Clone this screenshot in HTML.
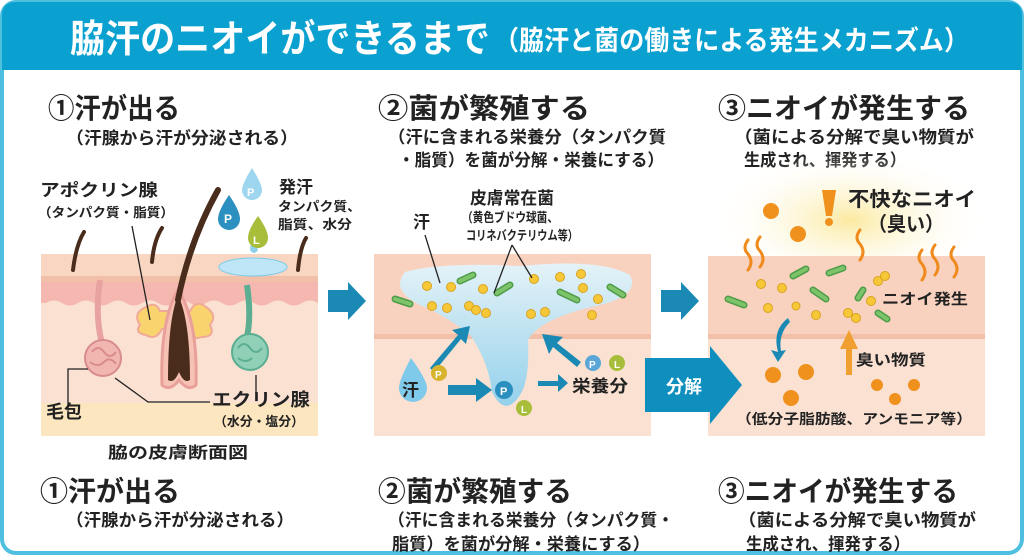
<!DOCTYPE html>
<html><head><meta charset="utf-8"><style>
body{margin:0;background:#fff;width:1024px;height:559px;overflow:hidden}
svg{display:block}
text{font-family:"Liberation Sans","Noto Sans CJK JP",sans-serif;font-weight:bold;fill:#222}
</style></head><body>
<svg width="1024" height="559" viewBox="0 0 1024 559" xmlns="http://www.w3.org/2000/svg">
<defs>
<linearGradient id="sw" x1="0" y1="0" x2="0" y2="1"><stop offset="0" stop-color="#e3f4fb"/><stop offset="1" stop-color="#8fd0ec"/></linearGradient>
<radialGradient id="glow" cx="0.5" cy="0.5" r="0.5"><stop offset="0" stop-color="#fbeaa0"/><stop offset="1" stop-color="#fff" stop-opacity="0"/></radialGradient>
</defs>
<rect x="2" y="2" width="1020" height="551" rx="14" fill="#fff" stroke="#4fbfe0" stroke-width="4"/>
<path d="M2 70 V16 Q2 2 16 2 H1008 Q1022 2 1022 16 V70 Z" fill="#0aa0d0"/>
<text x="70" y="52" font-size="38" textLength="420" lengthAdjust="spacingAndGlyphs" style="fill:#fff">脇汗のニオイができるまで</text>
<text x="494" y="50" font-size="27" textLength="475" lengthAdjust="spacingAndGlyphs" style="fill:#fff">（脇汗と菌の働きによる発生メカニズム）</text>

<text x="48" y="118" font-size="28" textLength="132" lengthAdjust="spacingAndGlyphs">①汗が出る</text>
<text x="66" y="144" font-size="17" textLength="232" lengthAdjust="spacingAndGlyphs">（汗腺から汗が分泌される）</text>
<text x="378" y="118" font-size="28" textLength="212" lengthAdjust="spacingAndGlyphs">②菌が繁殖する</text>
<text x="388" y="143" font-size="17" textLength="278" lengthAdjust="spacingAndGlyphs">（汗に含まれる栄養分（タンパク質</text>
<text x="398" y="166" font-size="17" textLength="266" lengthAdjust="spacingAndGlyphs">・脂質）を菌が分解・栄養にする）</text>
<text x="718" y="118" font-size="28" textLength="252" lengthAdjust="spacingAndGlyphs">③ニオイが発生する</text>
<text x="734" y="143" font-size="17" textLength="240" lengthAdjust="spacingAndGlyphs">（菌による分解で臭い物質が</text>
<text x="744" y="166" font-size="17" textLength="162" lengthAdjust="spacingAndGlyphs">生成され、揮発する）</text>

<text x="108" y="458" font-size="16" textLength="140" lengthAdjust="spacingAndGlyphs">脇の皮膚断面図</text>
<text x="40" y="501" font-size="28" textLength="140" lengthAdjust="spacingAndGlyphs">①汗が出る</text>
<text x="66" y="526" font-size="17" textLength="228" lengthAdjust="spacingAndGlyphs">（汗腺から汗が分泌される）</text>
<text x="378" y="501" font-size="28" textLength="194" lengthAdjust="spacingAndGlyphs">②菌が繁殖する</text>
<text x="388" y="526" font-size="17" textLength="286" lengthAdjust="spacingAndGlyphs">（汗に含まれる栄養分（タンパク質・</text>
<text x="392" y="550" font-size="17" textLength="258" lengthAdjust="spacingAndGlyphs">脂質）を菌が分解・栄養にする）</text>
<text x="718" y="501" font-size="28" textLength="240" lengthAdjust="spacingAndGlyphs">③ニオイが発生する</text>
<text x="738" y="526" font-size="17" textLength="238" lengthAdjust="spacingAndGlyphs">（菌による分解で臭い物質が</text>
<text x="746" y="550" font-size="17" textLength="164" lengthAdjust="spacingAndGlyphs">生成され、揮発する）</text>

<!-- PANEL 1 -->
<rect x="41" y="254" width="277" height="182" fill="#fbe1d2"/>
<rect x="41" y="254" width="277" height="22" fill="#f8d6c2"/>
<rect x="41" y="276" width="277" height="6" fill="#f2c0a8"/>
<path d="M41 282 H318 V303 Q310 298 302 303 T286 303 T270 303 T254 303 T238 303 T222 303 T206 303 T190 303 T174 303 T158 303 T142 303 T126 303 T110 303 T94 303 T78 303 T62 303 T46 303 L41 303Z" fill="#f4b8b0"/>
<rect x="41" y="403" width="277" height="33" fill="#fce6c0"/>
<path d="M73 270 Q76 245 84 232" stroke="#4a2c1c" stroke-width="4" fill="none" stroke-linecap="round"/>
<path d="M152 262 Q154 240 162 228" stroke="#4a2c1c" stroke-width="4" fill="none" stroke-linecap="round"/>
<path d="M298 270 Q300 248 306 238" stroke="#4a2c1c" stroke-width="4" fill="none" stroke-linecap="round"/>
<path d="M100 280 Q94 320 104 350" stroke="#e8a2a0" stroke-width="6" fill="none"/>
<circle cx="103" cy="358" r="18" fill="#f2b6b0" stroke="#d88c8c" stroke-width="2"/>
<path d="M92 352 q6-8 12 0 q6 8 12 0 M90 362 q8 6 14 0 q6-6 12 2" stroke="#d88c8c" stroke-width="2" fill="none"/>
<path d="M140 325 q-8-12 6-18 q10-6 14 4 h30 q6-12 16-4 q12 8 4 18 q6 12-8 12 q-10 4-14-8 h-26 q-6 12-16 6 q-12-2-6-10z" fill="#f9d46e" stroke="#f0a898" stroke-width="2"/>
<path d="M162 385 Q160 320 178 290 Q198 320 196 385 Q188 392 179 380 Q170 392 162 385Z" fill="#f6c2b4" stroke="#eaa09a" stroke-width="3"/>
<path d="M168 380 Q168 320 178 295 Q190 320 190 380 Q184 384 179 372 Q174 384 168 380Z" fill="#4a2c1c"/>
<path d="M178 300 Q190 240 218 190" stroke="#4a2c1c" stroke-width="6" fill="none" stroke-linecap="round"/>
<path d="M247 285 Q252 320 246 340" stroke="#5cae92" stroke-width="6" fill="none"/>
<circle cx="250" cy="352" r="18" fill="#8fd0b6" stroke="#5cae92" stroke-width="2"/>
<path d="M238 348 q6-8 12 0 q6 8 12 0 M238 358 q8 6 14 0" stroke="#5cae92" stroke-width="2" fill="none"/>
<ellipse cx="253" cy="267" rx="34" ry="9" fill="#bfe6f6" stroke="#7fcbea"/>
<path d="M252 232 l6 18 q-4 6-8 0z" fill="#8fd0ec"/>
<path d="M252 168 q10 16 10 22 a10 10 0 0 1-20 0 q0-6 10-22z" fill="#9fd6ef"/><text x="247" y="196" font-size="11" style="fill:#fff">P</text>
<path d="M229 195 q11 16 11 24 a11 11 0 0 1-22 0 q0-8 11-24z" fill="#2b8fbf"/><text x="224" y="223" font-size="12" style="fill:#fff">P</text>
<path d="M258 216 q10 14 10 22 a10 10 0 0 1-20 0 q0-8 10-22z" fill="#a8be3a"/><text x="253" y="244" font-size="11" style="fill:#fff">L</text>
<text x="279" y="193" font-size="17">発汗</text>
<text x="278" y="211" font-size="13" textLength="83" lengthAdjust="spacingAndGlyphs">タンパク質、</text>
<text x="278" y="229" font-size="13" textLength="74" lengthAdjust="spacingAndGlyphs">脂質、水分</text>
<text x="40" y="196" font-size="17" textLength="118" lengthAdjust="spacingAndGlyphs">アポクリン腺</text>
<text x="38" y="217" font-size="13" textLength="136" lengthAdjust="spacingAndGlyphs">（タンパク質・脂質）</text>
<path d="M132 226 L150 320" stroke="#222" stroke-width="1.3"/>
<path d="M68 418 V369 H88" stroke="#222" stroke-width="1.3" fill="none"/>
<path d="M115 378 L148 402 H210" stroke="#222" stroke-width="1.3" fill="none"/>
<path d="M256 375 V393" stroke="#222" stroke-width="1.3"/>
<text x="46" y="418" font-size="18">毛包</text>
<text x="212" y="406" font-size="18" textLength="98" lengthAdjust="spacingAndGlyphs">エクリン腺</text>
<text x="214" y="426" font-size="13" textLength="90" lengthAdjust="spacingAndGlyphs">（水分・塩分）</text>

<path d="M328 290 H348 V282 L366 301 L348 320 V312 H328Z" fill="#1a8ab5"/>

<!-- PANEL 2 -->
<rect x="374" y="254" width="277" height="182" fill="#fbe1d2"/>
<rect x="374" y="254" width="277" height="84" fill="#f8d2bf"/>
<rect x="374" y="334" width="277" height="5" fill="#f2c0a8"/>
<path d="M405 272 Q440 262 520 266 Q600 258 630 275 Q640 295 600 305 Q540 318 528 340 Q530 380 520 395 Q505 418 492 392 Q488 360 470 335 Q450 318 420 305 Q390 290 405 272Z" fill="url(#sw)" opacity="0.95"/>
<path d="M415 382 q12 -22 12 -30 a14 14 0 0 0 -28 0 q0 8 16 30z" fill="#7fc9ea" transform="rotate(180 413 370)"/>
<text x="402" y="396" font-size="17">汗</text>
<g fill="#f6c838" stroke="#d9a21e" stroke-width="1">
<circle cx="427" cy="286" r="4.5"/><circle cx="451" cy="287" r="4.5"/><circle cx="432" cy="306" r="4.5"/><circle cx="447" cy="308" r="4.5"/><circle cx="469" cy="306" r="4.5"/><circle cx="476" cy="310" r="4.5"/><circle cx="486" cy="313" r="4.5"/><circle cx="483" cy="289" r="4.5"/><circle cx="534" cy="279" r="4.5"/><circle cx="560" cy="277" r="4.5"/><circle cx="581" cy="274" r="4.5"/><circle cx="583" cy="288" r="4.5"/><circle cx="598" cy="299" r="4.5"/><circle cx="531" cy="314" r="4.5"/><circle cx="545" cy="312" r="4.5"/><circle cx="592" cy="315" r="4.5"/></g>
<g stroke="#4f9c48" stroke-width="7" stroke-linecap="round"><line x1="395" y1="299" x2="410" y2="304"/><line x1="460" y1="281" x2="473" y2="275"/><line x1="497" y1="293" x2="510" y2="285"/><line x1="560" y1="292" x2="577" y2="300"/><line x1="610" y1="287" x2="623" y2="295"/></g>
<g stroke="#7cc36a" stroke-width="4" stroke-linecap="round"><line x1="395" y1="299" x2="410" y2="304"/><line x1="460" y1="281" x2="473" y2="275"/><line x1="497" y1="293" x2="510" y2="285"/><line x1="560" y1="292" x2="577" y2="300"/><line x1="610" y1="287" x2="623" y2="295"/></g>
<text x="413" y="228" font-size="17">汗</text>
<path d="M425 235 L440 283" stroke="#222" stroke-width="1.3"/>
<text x="470" y="204" font-size="17" textLength="84" lengthAdjust="spacingAndGlyphs">皮膚常在菌</text>
<text x="462" y="222" font-size="13" textLength="96" lengthAdjust="spacingAndGlyphs">（黄色ブドウ球菌、</text>
<text x="466" y="240" font-size="13" textLength="112" lengthAdjust="spacingAndGlyphs">コリネバクテリウム等）</text>
<path d="M512 245 L494 293 M512 245 L532 278" stroke="#222" stroke-width="1.3" fill="none"/>
<path d="M430 368 L458 335 L452 330 L470 326 L466 344 L461 339 L434 372Z" fill="#1a8ab5"/>
<path d="M448 385 H476 V378 L492 390 L476 402 V395 H448Z" fill="#1a8ab5"/>
<path d="M577 367 L553 347 L549 354 L542 334 L563 337 L557 343 L581 362Z" fill="#1a8ab5"/>
<path d="M538 381 H558 V374 L568 383 L558 392 V386 H538Z" fill="#1a8ab5"/>
<circle cx="439" cy="373" r="8" fill="#d8b42e"/><text x="435" y="378" font-size="10" style="fill:#fff">P</text>
<circle cx="504" cy="390" r="9" fill="#2b8fbf"/><text x="500" y="395" font-size="11" style="fill:#fff">P</text>
<circle cx="524" cy="408" r="8" fill="#a8be3a"/><text x="521" y="413" font-size="10" style="fill:#fff">L</text>
<circle cx="593" cy="363" r="8" fill="#5aa6d6"/><text x="589" y="368" font-size="10" style="fill:#fff">P</text>
<circle cx="617" cy="363" r="8" fill="#a8be3a"/><text x="614" y="368" font-size="10" style="fill:#fff">L</text>
<text x="572" y="392" font-size="17" textLength="56" lengthAdjust="spacingAndGlyphs">栄養分</text>

<path d="M661 290 H681 V282 L699 301 L681 320 V312 H661Z" fill="#1a8ab5"/>

<!-- PANEL 3 -->
<ellipse cx="850" cy="220" rx="140" ry="70" fill="url(#glow)"/>
<rect x="708" y="256" width="277" height="180" fill="#fbe1d2"/>
<rect x="708" y="256" width="277" height="82" fill="#f8d2bf"/>
<rect x="708" y="334" width="277" height="5" fill="#f2c0a8"/>
<path d="M645 358 H710 V346 L742 385 L710 424 V412 H645Z" fill="#0e8fbe"/>
<text x="666" y="393" font-size="18" style="fill:#fff">分解</text>
<g stroke="#ef8a1c" stroke-width="3" fill="none" stroke-linecap="round">
<path d="M748 240 q-6 8 0 14 q6 8 0 16"/><path d="M760 237 q-6 8 0 14 q6 8 0 16"/><path d="M860 230 q-6 8 0 14 q6 8 0 16"/><path d="M922 250 q-6 8 0 14 q6 8 0 16"/><path d="M935 245 q-6 8 0 14 q6 8 0 16"/><path d="M954 247 q-6 8 0 14 q6 8 0 16"/></g>
<g fill="#f0911e"><circle cx="771" cy="211" r="8"/><circle cx="798" cy="234" r="8"/><circle cx="773" cy="375" r="8"/><circle cx="806" cy="372" r="8"/><circle cx="791" cy="398" r="8"/><circle cx="877" cy="385" r="6"/><circle cx="914" cy="385" r="6"/><circle cx="895" cy="399" r="6"/></g>
<path d="M822 190 L836 190 L832 216 L826 216Z" fill="#f0911e"/><circle cx="829" cy="222" r="4" fill="#f0911e"/>
<text x="848" y="206" font-size="20" textLength="128" lengthAdjust="spacingAndGlyphs">不快なニオイ</text>
<text x="868" y="231" font-size="20" textLength="76" lengthAdjust="spacingAndGlyphs">（臭い）</text>
<g stroke="#4f9c48" stroke-width="7" stroke-linecap="round"><line x1="728" y1="299" x2="744" y2="305"/><line x1="793" y1="276" x2="806" y2="269"/><line x1="829" y1="273" x2="843" y2="268"/><line x1="813" y1="290" x2="826" y2="299"/><line x1="858" y1="298" x2="863" y2="290"/><line x1="878" y1="313" x2="887" y2="319"/></g>
<g stroke="#7cc36a" stroke-width="4" stroke-linecap="round"><line x1="728" y1="299" x2="744" y2="305"/><line x1="793" y1="276" x2="806" y2="269"/><line x1="829" y1="273" x2="843" y2="268"/><line x1="813" y1="290" x2="826" y2="299"/><line x1="858" y1="298" x2="863" y2="290"/><line x1="878" y1="313" x2="887" y2="319"/></g>
<g fill="#f6c838" stroke="#d9a21e" stroke-width="1"><circle cx="761" cy="284" r="4.5"/><circle cx="782" cy="288" r="4.5"/><circle cx="768" cy="308" r="4.5"/><circle cx="796" cy="306" r="4"/><circle cx="816" cy="315" r="4.5"/><circle cx="848" cy="313" r="4.5"/><circle cx="856" cy="318" r="4.5"/><circle cx="878" cy="281" r="4.5"/><circle cx="885" cy="276" r="4.5"/><circle cx="871" cy="301" r="4.5"/></g>
<path d="M788 318 Q772 330 778 352 L771 350 L778 362 L786 350 L781 351 Q778 334 790 322Z" fill="#1a8ab5"/>
<path d="M846 375 V349 H840 L849 330 L858 349 H852 V375Z" fill="#f0a030"/>
<text x="882" y="304" font-size="15" textLength="86" lengthAdjust="spacingAndGlyphs">ニオイ発生</text>
<text x="856" y="365" font-size="15" textLength="70" lengthAdjust="spacingAndGlyphs">臭い物質</text>
<text x="736" y="424" font-size="14" textLength="236" lengthAdjust="spacingAndGlyphs">（低分子脂肪酸、アンモニア等）</text>
</svg>
</body></html>
